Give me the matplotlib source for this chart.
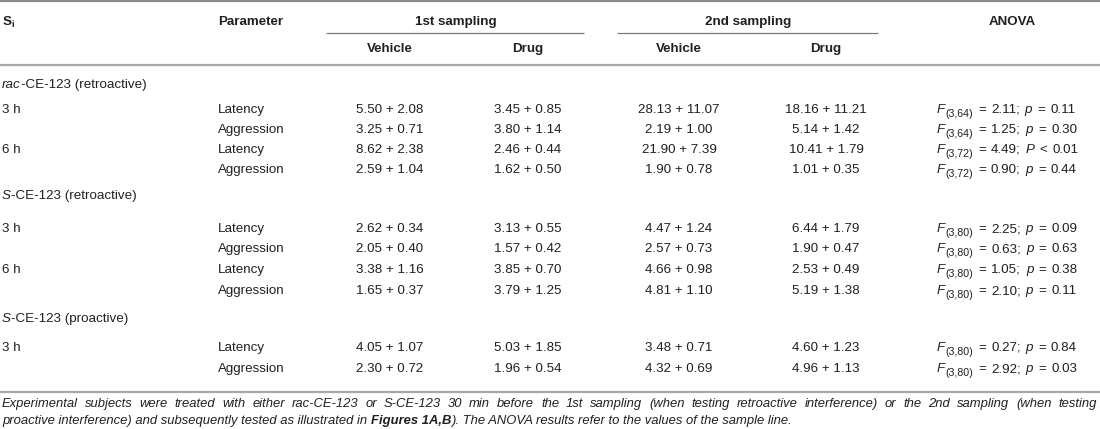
import matplotlib
matplotlib.use("Agg")
import matplotlib.pyplot as plt

plt.rcParams['font.family'] = ['Liberation Sans', 'DejaVu Sans']
plt.rcParams['mathtext.fontset'] = 'custom'
plt.rcParams['mathtext.rm'] = 'Liberation Sans'
plt.rcParams['mathtext.it'] = 'Liberation Sans:italic'
plt.rcParams['mathtext.bf'] = 'Liberation Sans:bold'

# ---------------- data ----------------
col_headers = ["Vehicle", "Drug", "Vehicle", "Drug"]
group_headers = ["1st sampling", "2nd sampling"]
section_prefix = ["rac", "S", "S"]
section_suffix = ["-CE-123 (retroactive)", "-CE-123 (retroactive)", "-CE-123 (proactive)"]
section_times = [["3 h", "6 h"], ["3 h", "6 h"], ["3 h"]]
parameters = ["Latency", "Aggression"]

veh1_mean = [5.50, 3.25, 8.62, 2.59, 2.62, 2.05, 3.38, 1.65, 4.05, 2.30]
veh1_sem  = [2.08, 0.71, 2.38, 1.04, 0.34, 0.40, 1.16, 0.37, 1.07, 0.72]
drug1_mean = [3.45, 3.80, 2.46, 1.62, 3.13, 1.57, 3.85, 3.79, 5.03, 1.96]
drug1_sem  = [0.85, 1.14, 0.44, 0.50, 0.55, 0.42, 0.70, 1.25, 1.85, 0.54]
veh2_mean = [28.13, 2.19, 21.90, 1.90, 4.47, 2.57, 4.66, 4.81, 3.48, 4.32]
veh2_sem  = [11.07, 1.00, 7.39, 0.78, 1.24, 0.73, 0.98, 1.10, 0.71, 0.69]
drug2_mean = [18.16, 5.14, 10.41, 1.01, 6.44, 1.90, 2.53, 5.19, 4.60, 4.96]
drug2_sem  = [11.21, 1.42, 1.79, 0.35, 1.79, 0.47, 0.49, 1.38, 1.23, 1.13]
anova_df = ["3,64", "3,64", "3,72", "3,72", "3,80", "3,80", "3,80", "3,80", "3,80", "3,80"]
anova_F = [2.11, 1.25, 4.49, 0.90, 2.25, 0.63, 1.05, 2.10, 0.27, 2.92]
anova_p_sym = ["p", "p", "P", "p", "p", "p", "p", "p", "p", "p"]
anova_p_rel = ["=", "=", "<", "=", "=", "=", "=", "=", "=", "="]
anova_p_val = [0.11, 0.30, 0.01, 0.44, 0.09, 0.63, 0.38, 0.11, 0.84, 0.03]

foot1 = ("Experimental subjects were treated with either rac-CE-123 or S-CE-123 30 min before the 1st "
         "sampling (when testing retroactive interference) or the 2nd sampling (when testing")
foot2a = "proactive interference) and subsequently tested as illustrated in "
foot2b = "Figures 1A,B"
foot2c = "). The ANOVA results refer to the values of the sample line."

# ---------------- layout ----------------
W, H = 1100, 429
fig = plt.figure(figsize=(W / 100, H / 100), dpi=100)
ax = fig.add_axes([0, 0, 1, 1])
ax.set_xlim(0, W)
ax.set_ylim(H, 0)
ax.axis('off')

TXT = '#231f20'
FS = 9.6
x_si, x_par = 2, 218
x_cols = [390, 528, 679, 826]
x_groups = [456, 748]
group_lines = [(326, 584), (617, 878)]
x_anova_hdr = 1012
x_anova = 937

# rules
ax.plot([0, W], [1, 1], color='#8a8a8a', lw=1.6, solid_capstyle='butt')
ax.plot([0, W], [65, 65], color='#a8a8a8', lw=1.6, solid_capstyle='butt')
ax.plot([0, W], [392, 392], color='#a8a8a8', lw=1.6, solid_capstyle='butt')
for (a, b) in group_lines:
    ax.plot([a, b], [33, 33], color='#7a7a7a', lw=0.9, solid_capstyle='butt')

# headers
hdr = dict(color=TXT, fontsize=FS, fontweight='bold', va='center')
ax.text(x_si, 22, r"S$_{\mathbf{i}}$", ha='left', **hdr)
ax.text(x_par, 22, "Parameter", ha='left', **hdr)
for xg, g in zip(x_groups, group_headers):
    ax.text(xg, 22, g, ha='center', **hdr)
ax.text(x_anova_hdr, 22, "ANOVA", ha='center', **hdr)
for xc, c in zip(x_cols, col_headers):
    ax.text(xc, 49, c, ha='center', **hdr)


def rich(x, y, parts, fs=FS):
    """parts: (text, style, weight)"""
    prev = None
    for n, (s, style, weight) in enumerate(parts):
        if n == 0:
            prev = ax.text(x, y, s, ha='left', va='center', color=TXT, fontsize=fs,
                           style=style, fontweight=weight)
        else:
            prev = ax.annotate(s, xy=(1, 0), xycoords=prev,
                               ha='left', va='bottom', color=TXT, fontsize=fs,
                               style=style, fontweight=weight)
    return prev


section_y = [85, 196, 319]
row_y = [[110, 130, 150, 170], [229, 249, 270, 291], [348, 369]]

GAP = 3.6  # points between ANOVA tokens
body = dict(color=TXT, fontsize=FS, va='center')
i = 0
for s in range(3):
    rich(x_si, section_y[s], [(section_prefix[s], 'italic', 'normal'),
                              (section_suffix[s], 'normal', 'normal')])
    k = 0
    for t in section_times[s]:
        for p in parameters:
            y = row_y[s][k]
            if p == parameters[0]:
                ax.text(x_si, y, t, ha='left', **body)
            ax.text(x_par, y, p, ha='left', **body)
            for xc, m, e in zip(x_cols,
                                [veh1_mean[i], drug1_mean[i], veh2_mean[i], drug2_mean[i]],
                                [veh1_sem[i], drug1_sem[i], veh2_sem[i], drug2_sem[i]]):
                ax.text(xc, y, f"{m:.2f} + {e:.2f}", ha='center', **body)
            # ANOVA: F(sub) = v; p = v
            fT = ax.text(x_anova, y, "F", ha='left', va='center', color=TXT,
                         fontsize=FS, style='italic')
            sub = ax.annotate(f"({anova_df[i]})", xy=(1, 0), xycoords=fT,
                              xytext=(0.3, -2.2), textcoords='offset points',
                              ha='left', va='bottom', color=TXT, fontsize=FS * 0.8)
            rest = [("=", 'normal'), (f"{anova_F[i]:.2f};", 'normal'),
                    (anova_p_sym[i], 'italic'), (anova_p_rel[i], 'normal'),
                    (f"{anova_p_val[i]:.2f}", 'normal')]
            prevart = sub
            for n, (txt, st) in enumerate(rest):
                prevart = ax.annotate(txt, xy=(1, 0), xycoords=prevart,
                                      xytext=(GAP, 2.2 if n == 0 else 0),
                                      textcoords='offset points',
                                      ha='left', va='bottom', color=TXT,
                                      fontsize=FS, style=st)
            i += 1
            k += 1

# footnote (first line justified to full width)
FFS = 9.4
fig.canvas.draw()
renderer = fig.canvas.get_renderer()
words = foot1.split(" ")
x_left, x_right = 2, 1097
arts = [ax.text(0, 404, w, ha='left', va='center', color=TXT, fontsize=FFS, style='italic')
        for w in words]
to_data = ax.transData.inverted()
widths = []
for a in arts:
    bb = a.get_window_extent(renderer)
    (x0, _), (x1, _) = to_data.transform([(bb.x0, bb.y0), (bb.x1, bb.y1)])
    widths.append(x1 - x0)
gap = (x_right - x_left - sum(widths)) / (len(words) - 1)
xpos = x_left
for a, w in zip(arts, widths):
    a.set_x(xpos)
    xpos += w + gap

rich(x_si, 421, [(foot2a, 'italic', 'normal'), (foot2b, 'italic', 'bold'),
                 (foot2c, 'italic', 'normal')], fs=FFS)

fig.savefig("out.png", dpi=100)
